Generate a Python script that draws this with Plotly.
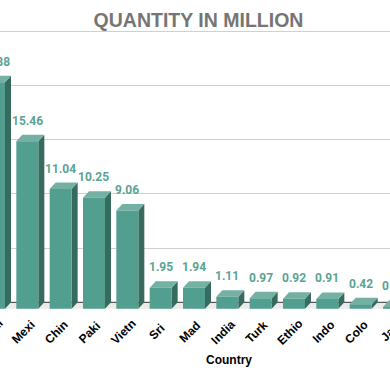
import plotly.graph_objects as go

countries = ["Brazi", "Mexi", "Chin", "Paki", "Vietn", "Sri", "Mad", "India", "Turk", "Ethio", "Indo", "Colo", "Jap"]
quantity = [20.88, 15.46, 11.04, 10.25, 9.06, 1.95, 1.94, 1.11, 0.97, 0.92, 0.91, 0.42, 0.18]
value_labels = ["20.88", "15.46", "11.04", "10.25", "9.06", "1.95", "1.94", "1.11", "0.97", "0.92", "0.91", "0.42", "0.18"]
y_ticks = [0, 5, 10, 15, 20, 25]

FRONT = "#529e8f"
SIDE = "#376b5f"
TOP = "#74b1a4"
LABEL = "#5aa392"

hw = 0.33   # half width of front face (x units)
dx = 0.18   # depth offset x
dy = 0.6    # depth offset y
X0, X1 = 0.18, 11.88

idx = list(range(len(quantity)))

def to_paper(x):
    return (x - X0) / (X1 - X0)

def poly(points_list):
    xs, ys = [], []
    for pts in points_list:
        for (a, b) in pts:
            xs.append(a); ys.append(b)
        xs.append(pts[0][0]); ys.append(pts[0][1])
        xs.append(None); ys.append(None)
    return xs, ys

front_polys, side_polys, top_polys = [], [], []
for i, v in zip(idx, quantity):
    front_polys.append([(i - hw, -dy), (i + hw, -dy), (i + hw, v - dy), (i - hw, v - dy)])
    side_polys.append([(i + hw, -dy), (i + hw + dx, 0), (i + hw + dx, v), (i + hw, v - dy)])
    top_polys.append([(i - hw, v - dy), (i - hw + dx, v), (i + hw + dx, v), (i + hw, v - dy)])

fig = go.Figure()
for polys, col in [(side_polys, SIDE), (top_polys, TOP), (front_polys, FRONT)]:
    xs, ys = poly(polys)
    fig.add_trace(go.Scatter(x=xs, y=ys, mode="lines", fill="toself", fillcolor=col,
                             line=dict(width=0, color=col), hoverinfo="skip", showlegend=False))

# floor band
fig.add_shape(type="rect", xref="paper", x0=0, x1=1, yref="y", y0=-dy, y1=0,
              fillcolor="#ebebeb", line=dict(width=0), layer="below")
fig.add_shape(type="line", xref="paper", x0=0, x1=1, yref="y", y0=0, y1=0,
              line=dict(color="#333333", width=1), layer="below")

annotations = []
for i, v, t in zip(idx, quantity, value_labels):
    annotations.append(dict(x=to_paper(i), y=v, xref="paper", yref="y", text=t, showarrow=False,
                            yanchor="bottom", xanchor="center", yshift=5,
                            font=dict(family="Roboto", size=12, color=LABEL, weight="bold")))
for i, c in zip(idx, countries):
    annotations.append(dict(x=to_paper(i - 0.12), y=-0.0745, xref="paper", yref="paper", text=c, showarrow=False,
                            xanchor="center", yanchor="middle", textangle=-45,
                            font=dict(family="Liberation Sans", size=12, color="#000000", weight="bold")))
annotations.append(dict(x=229 / 390, y=-0.174, xref="paper", yref="paper", text="Country", showarrow=False,
                        xanchor="center", yanchor="middle",
                        font=dict(family="Liberation Sans", size=12, color="#000000", weight="bold")))

fig.update_layout(
    width=390, height=371,
    margin=dict(l=0, r=0, t=29, b=60),
    paper_bgcolor="white", plot_bgcolor="white",
    title=dict(text="QUANTITY IN MILLION", x=198.5 / 390, xanchor="center", y=1 - 20 / 371, yanchor="middle",
               font=dict(family="Liberation Sans", size=19.5, color="#757575", weight="bold")),
    xaxis=dict(range=[X0, X1], showgrid=False, zeroline=False, showticklabels=False, ticks="",
               showline=False, fixedrange=True),
    yaxis=dict(range=[-0.8, 25.2], tickvals=y_ticks[1:], showgrid=True, gridcolor="#d0d0d0", gridwidth=1,
               zeroline=False, showticklabels=False, ticks="", showline=False, fixedrange=True),
    annotations=annotations,
    showlegend=False,
)

fig.write_html("out.html", config={"displayModeBar": False},
               post_script="document.body.style.margin='0px';document.body.style.overflow='hidden';")
